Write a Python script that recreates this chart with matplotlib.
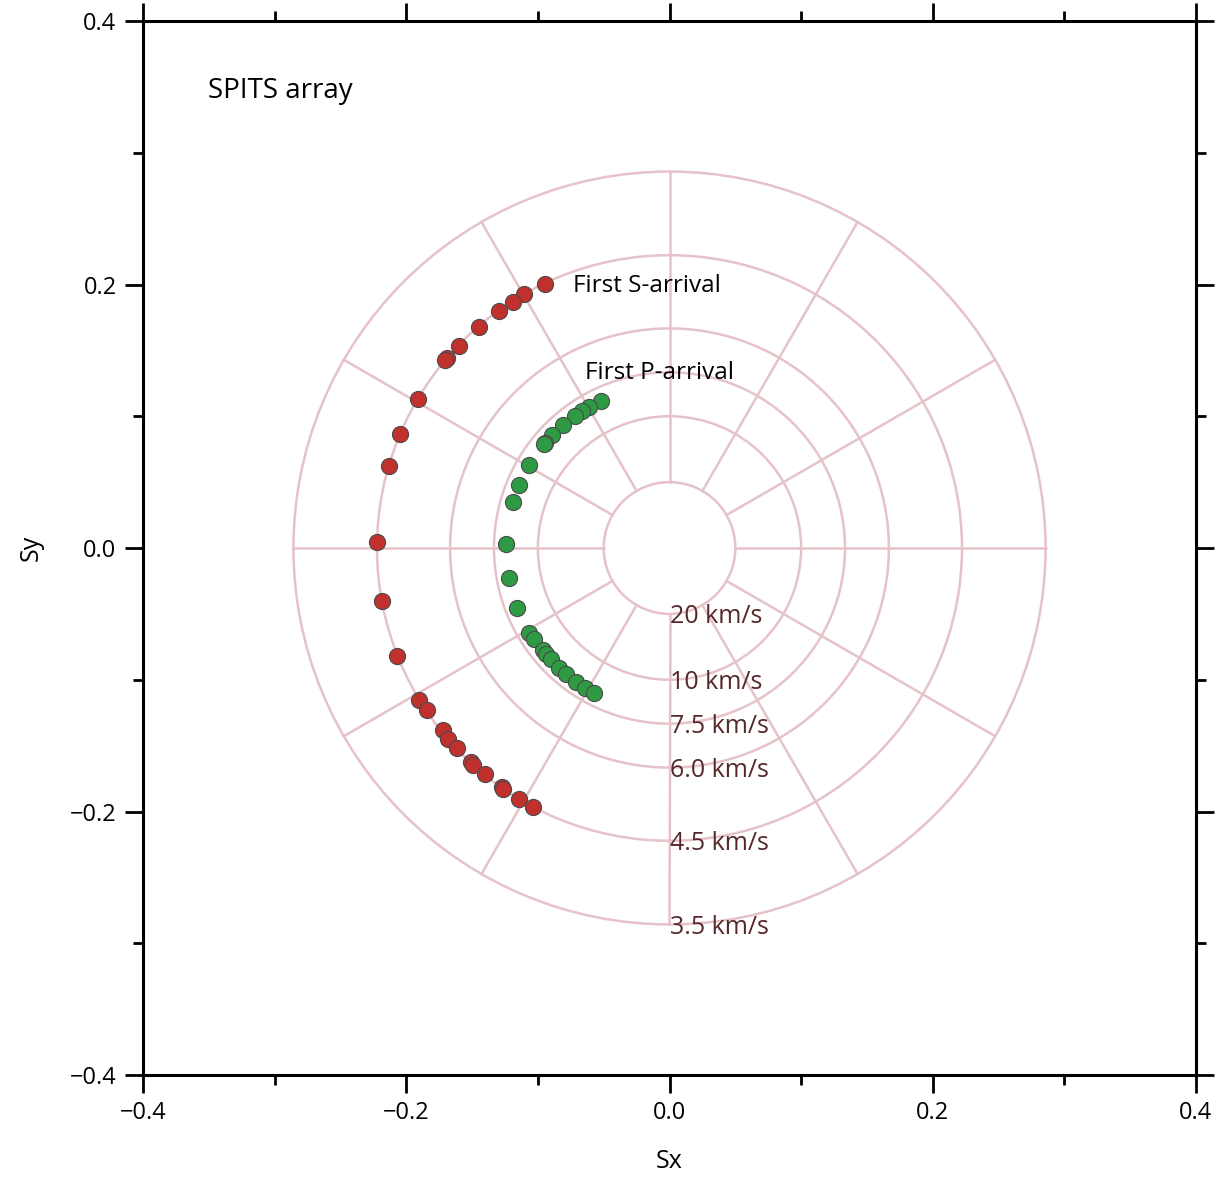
import numpy as np
import matplotlib
matplotlib.use('Agg')
import matplotlib.pyplot as plt
from matplotlib.patches import Circle
from matplotlib.ticker import MultipleLocator
from matplotlib.transforms import ScaledTranslation

plt.rcParams['font.family'] = ['Open Sans', 'DejaVu Sans']
plt.rcParams['axes.unicode_minus'] = True

# slowness rings (km/s) and their labels
ring_vel = [20, 10, 7.5, 6.0, 4.5, 3.5]
ring_labels = ['20 km/s', '10 km/s', '7.5 km/s', '6.0 km/s', '4.5 km/s', '3.5 km/s']
spoke_angles = np.arange(0, 360, 30)

# first S-arrival slowness estimates
s_sx = [-0.0946, -0.1103, -0.1189, -0.1295, -0.1450, -0.1599, -0.1690, -0.1703,
        -0.1913, -0.2047, -0.2131, -0.2220, -0.2187, -0.2068, -0.1901, -0.1840,
        -0.1723, -0.1683, -0.1612, -0.1508, -0.1495, -0.1404, -0.1270, -0.1263,
        -0.1146, -0.1035]
s_sy = [0.2004, 0.1926, 0.1870, 0.1801, 0.1680, 0.1533, 0.1440, 0.1427,
        0.1133, 0.0865, 0.0622, 0.0048, -0.0400, -0.0817, -0.1154, -0.1230,
        -0.1381, -0.1447, -0.1520, -0.1627, -0.1647, -0.1718, -0.1816, -0.1829,
        -0.1903, -0.1964]

# first P-arrival slowness estimates
p_sx = [-0.0523, -0.0614, -0.0667, -0.0720, -0.0807, -0.0891, -0.0944, -0.0954,
        -0.1065, -0.1141, -0.1191, -0.1242, -0.1222, -0.1155, -0.1064, -0.1028,
        -0.0964, -0.0941, -0.0903, -0.0840, -0.0784, -0.0708, -0.0641, -0.0574]
p_sy = [0.1113, 0.1072, 0.1040, 0.1000, 0.0934, 0.0858, 0.0799, 0.0786,
        0.0628, 0.0478, 0.0349, 0.0028, -0.0228, -0.0459, -0.0643, -0.0689,
        -0.0776, -0.0805, -0.0845, -0.0913, -0.0959, -0.1017, -0.1061, -0.1097]

grid_col = '#e6c2c9'
label_col = '#55282a'

fig = plt.figure(figsize=(12.23, 11.77), dpi=100)
ax = fig.add_axes([143 / 1223, 102 / 1177, 1053 / 1223, 1054 / 1177])

radii = [1.0 / v for v in ring_vel]
for r in radii:
    ax.add_patch(Circle((0, 0), r, fill=False, ec=grid_col, lw=1.8, zorder=1))
r_in, r_out = min(radii), max(radii)
for a in np.deg2rad(spoke_angles):
    ax.plot([r_in * np.cos(a), r_out * np.cos(a)],
            [r_in * np.sin(a), r_out * np.sin(a)],
            color=grid_col, lw=1.8, zorder=1)

# nudge labels down a little so the glyphs sit centred on the rings
nudge = ax.transData + ScaledTranslation(0, -3 / 100, fig.dpi_scale_trans)
for r, lab in zip(radii, ring_labels):
    ax.text(0, -r, lab, ha='left', va='center', fontsize=18, color=label_col,
            zorder=2, transform=nudge)

ax.scatter(s_sx, s_sy, s=135, c='#c0312d', edgecolors='#4a4a4a', linewidths=0.8, zorder=3)
ax.scatter(p_sx, p_sy, s=135, c='#2f9a44', edgecolors='#4a4a4a', linewidths=0.8, zorder=3)

ax.text(-0.0733, 0.2012, 'First S-arrival', ha='left', va='center', fontsize=17.5,
        transform=nudge)
ax.text(-0.0642, 0.1351, 'First P-arrival', ha='left', va='center', fontsize=17.5,
        transform=nudge)
ax.text(-0.3507, 0.349, 'SPITS array', ha='left', va='center', fontsize=20,
        transform=nudge)

ax.set_xlim(-0.4, 0.4)
ax.set_ylim(-0.4, 0.4)
ax.xaxis.set_major_locator(MultipleLocator(0.2))
ax.yaxis.set_major_locator(MultipleLocator(0.2))
ax.xaxis.set_minor_locator(MultipleLocator(0.1))
ax.yaxis.set_minor_locator(MultipleLocator(0.1))
ax.xaxis.set_major_formatter(lambda v, p: f'{v:.1f}'.replace('-', '\u2212'))
ax.yaxis.set_major_formatter(lambda v, p: f'{v:.1f}'.replace('-', '\u2212'))
ax.tick_params(which='both', direction='out', top=True, right=True,
               width=2, labelsize=17, pad=6)
ax.tick_params(which='major', length=13)
ax.tick_params(which='minor', length=7)
for sp in ax.spines.values():
    sp.set_linewidth(2.2)

ax.set_xlabel('Sx', fontsize=18, labelpad=17)
ax.set_ylabel('Sy', fontsize=18, labelpad=19)

fig.savefig('out.png', dpi=100)
